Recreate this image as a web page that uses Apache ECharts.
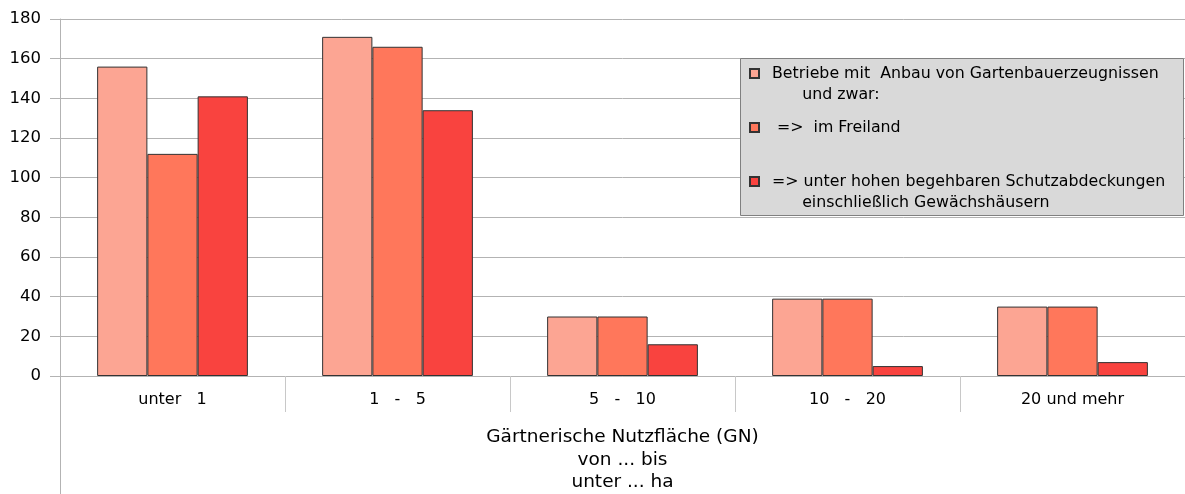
<!DOCTYPE html>
<html>
<head>
<meta charset="utf-8">
<script src="https://cdn.jsdelivr.net/npm/echarts@6/dist/echarts.min.js"></script>
<style>
  html, body { margin: 0; padding: 0; background: #fff; }
  #chart { width: 1185px; height: 494px; }
</style>
</head>
<body>
<div id="chart"></div>
<script>
var categories = ['unter   1', '1   -   5', '5   -   10', '10   -   20', '20 und mehr']
var seriesNames = [
  'Betriebe mit Anbau von Gartenbauerzeugnissen und zwar:',
  '=> im Freiland',
  '=> unter hohen begehbaren Schutzabdeckungen einschließlich Gewächshäusern'
]
var totalValues = [156, 171, 30, 39, 35]
var freilandValues = [112, 166, 30, 39, 35]
var schutzValues = [141, 134, 16, 5, 7]
var yTicks = { min: 0, max: 180, interval: 20 }

// legend text as laid out in the original (marker sits on first line)
var legendText = {}
legendText[seriesNames[0]] = ' \nBetriebe mit  Anbau von Gartenbauerzeugnissen\n      und zwar:'
legendText[seriesNames[1]] = ' \n =>  im Freiland\n '
legendText[seriesNames[2]] = ' \n=> unter hohen begehbaren Schutzabdeckungen\n      einschließlich Gewächshäusern'

var colors = ['#fca593', '#ff775b', '#f9433f']
var font = 'DejaVu Sans, Liberation Sans, sans-serif'

var chart = echarts.init(document.getElementById('chart'))
chart.setOption({
  animation: false,
  color: colors,
  textStyle: { fontFamily: font },
  grid: { left: 60, right: 0, top: 19, bottom: 118, containLabel: false, outerBoundsMode: 'none' },
  legend: {
    orient: 'vertical',
    left: 749,
    top: 42,
    padding: 0,
    itemGap: -9,
    itemWidth: 9,
    itemHeight: 9,
    icon: 'rect',
    selectedMode: false,
    z: 5,
    formatter: function (name) {
      return legendText[name]
    },
    textStyle: {
      fontFamily: font,
      fontSize: 15.8,
      lineHeight: 21,
      color: '#000',
      padding: [0, 0, 0, 8]
    },
    data: seriesNames
  },
  graphic: [
    {
      type: 'rect',
      z: 3,
      shape: { x: 740.5, y: 58.5, width: 443, height: 157 },
      style: { fill: '#d9d9d9', stroke: '#808080', lineWidth: 1 }
    },
    {
      type: 'line',
      z: 3,
      shape: { x1: 60.5, y1: 376, x2: 60.5, y2: 494 },
      style: { stroke: '#b3b3b3', lineWidth: 1 }
    }
  ],
  xAxis: {
    type: 'category',
    data: categories,
    name: 'Gärtnerische Nutzfläche (GN)\nvon ... bis\nunter ... ha',
    nameLocation: 'middle',
    nameGap: 50,
    nameTextStyle: { fontFamily: font, fontSize: 18.5, lineHeight: 22.5, color: '#000' },
    axisLine: { lineStyle: { color: '#b3b3b3' } },
    axisTick: { show: true, interval: 0, length: 36, lineStyle: { color: '#c8c8c8' } },
    axisLabel: { fontFamily: font, fontSize: 16, color: '#000', margin: 16 }
  },
  yAxis: {
    type: 'value',
    min: yTicks.min,
    max: yTicks.max,
    interval: yTicks.interval,
    axisLine: { show: true, lineStyle: { color: '#b3b3b3' } },
    axisTick: { show: true, length: 10, lineStyle: { color: '#b3b3b3' } },
    axisLabel: { fontFamily: font, fontSize: 16.5, color: '#000', margin: 19 },
    splitLine: { lineStyle: { color: '#b3b3b3' } }
  },
  series: [
    {
      name: seriesNames[0],
      type: 'bar',
      data: totalValues,
      barGap: '0%',
      barCategoryGap: '33%',
      itemStyle: { borderColor: '#333', borderWidth: 1 }
    },
    {
      name: seriesNames[1],
      type: 'bar',
      data: freilandValues,
      itemStyle: { borderColor: '#333', borderWidth: 1 }
    },
    {
      name: seriesNames[2],
      type: 'bar',
      data: schutzValues,
      itemStyle: { borderColor: '#333', borderWidth: 1 }
    }
  ]
})
</script>
</body>
</html>
